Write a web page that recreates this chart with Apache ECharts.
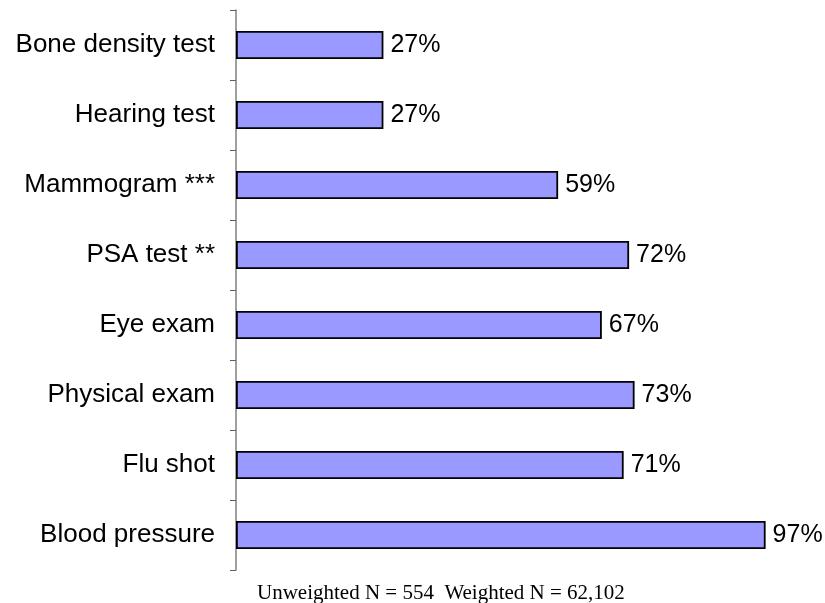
<!DOCTYPE html>
<html>
<head>
<meta charset="utf-8">
<script src="https://cdn.jsdelivr.net/npm/echarts@6/dist/echarts.min.js"></script>
<style>
  html, body { margin: 0; padding: 0; background: #fff; }
  #chart { width: 825px; height: 603px; }
</style>
</head>
<body>
<div id="chart"></div>
<script>
// top to bottom, as in the picture
var categories = ['Bone density test', 'Hearing test', 'Mammogram ***', 'PSA test **',
  'Eye exam', 'Physical exam', 'Flu shot', 'Blood pressure']
var percents = [27, 27, 59, 72, 67, 73, 71, 97]
var footNote = 'Unweighted N = 554  Weighted N = 62,102'

var chart = echarts.init(document.getElementById('chart'))
chart.setOption({
  animation: false,
  title: {
    text: footNote,
    left: 252,
    top: 578,
    textStyle: {
      fontFamily: 'Liberation Serif',
      fontWeight: 'normal',
      fontSize: 21,
      color: '#000'
    }
  },
  grid: {
    left: 236,
    right: 43,
    top: 10,
    bottom: 33
  },
  xAxis: {
    type: 'value',
    min: 0,
    max: 100,
    show: false
  },
  yAxis: {
    type: 'category',
    inverse: true,
    data: categories,
    axisLine: {
      lineStyle: { color: '#808080', width: 1.5 }
    },
    axisTick: {
      show: true,
      alignWithLabel: false,
      inside: false,
      length: 6,
      lineStyle: { color: '#606060', width: 1 }
    },
    axisLabel: {
      margin: 21,
      fontFamily: 'Liberation Sans',
      fontSize: 26,
      color: '#000'
    }
  },
  series: [
    {
      type: 'bar',
      data: percents,
      barWidth: 28,
      itemStyle: {
        color: '#9999FF',
        borderColor: '#000',
        borderWidth: 1.8
      },
      label: {
        show: true,
        position: 'right',
        distance: 7,
        formatter: '{c}%',
        fontFamily: 'Liberation Sans',
        fontSize: 25,
        color: '#000'
      }
    }
  ]
})
</script>
</body>
</html>
